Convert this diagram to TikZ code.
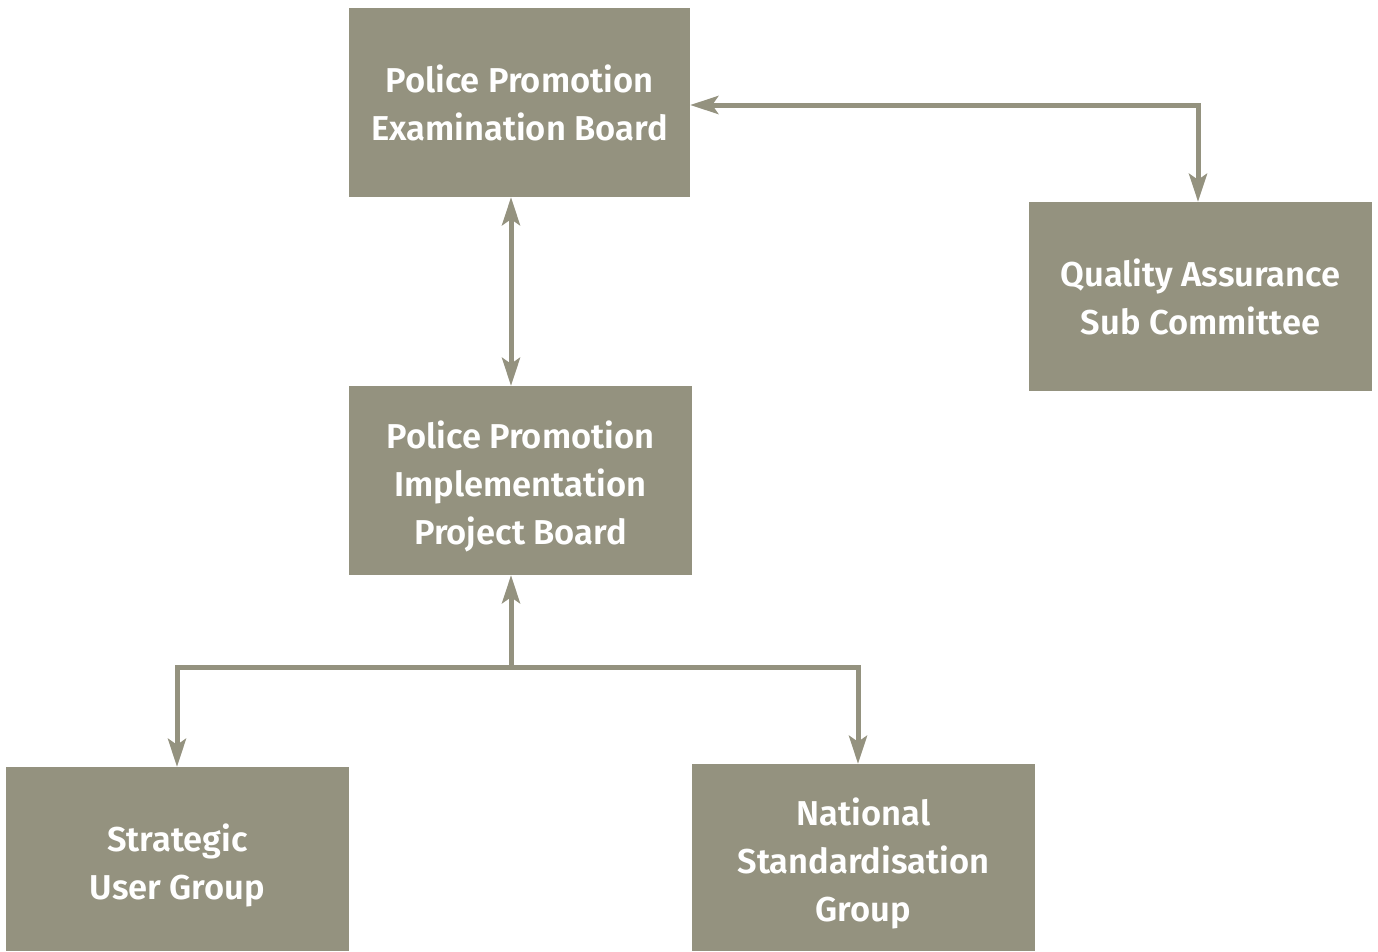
\documentclass[tikz,border=0pt]{standalone}
\usepackage{fontspec}
\setmainfont{Fira Sans}[UprightFont=* SemiBold]
\usetikzlibrary{arrows.meta,calc}
\definecolor{boxgray}{HTML}{94927F}
\newcommand\padtop{\rule{0pt}{40pt}}
\begin{document}
\begin{tikzpicture}[x=1pt,y=-1pt,
  box/.style={fill=boxgray,draw=none,inner sep=0pt,text=white,align=center,
    font=\fontsize{34.5}{48}\selectfont},
  conn/.style={draw=boxgray,line width=5pt,
    arrows={Stealth[length=28pt,width=18pt,inset=6pt,fill=boxgray]-Stealth[length=28pt,width=18pt,inset=6pt,fill=boxgray]}}
]
\useasboundingbox[fill=white] (0,0) rectangle (1378,951);
\node[box,minimum width=341pt,minimum height=189pt] (ppeb) at (519.5,102.5) {Police Promotion\\Examination Board};
\node[box,minimum width=343pt,minimum height=189pt] (qasc) at (1200.5,296.5) {Quality Assurance\\Sub Committee};
\node[box,minimum width=343pt,minimum height=189pt] (ppib) at (520.5,480.5) {\padtop Police Promotion\\Implementation\\Project Board};
\node[box,minimum width=343pt,minimum height=184pt] (sug) at (177.5,859) {\padtop Strategic\\User Group};
\node[box,minimum width=343pt,minimum height=187pt] (nsg) at (863.5,857.5) {\padtop National\\Standardisation\\Group};
\coordinate (vx) at (511,0);
\coordinate (qx) at (1198,105);
\coordinate (j) at (511,667);
\coordinate (lx) at (177,0);
\coordinate (rx) at (858,0);
\draw[conn] (ppeb.south -| vx) -- (ppib.north -| vx);
\draw[conn] (ppeb.east |- qx) -| (qasc.north -| qx);
\draw[conn,arrows={-Stealth[length=28pt,width=18pt,inset=6pt,fill=boxgray]}] (j) -- (ppib.south -| j);
\draw[conn] (sug.north -| lx) |- (j) -| (nsg.north -| rx);
\end{tikzpicture}
\end{document}
